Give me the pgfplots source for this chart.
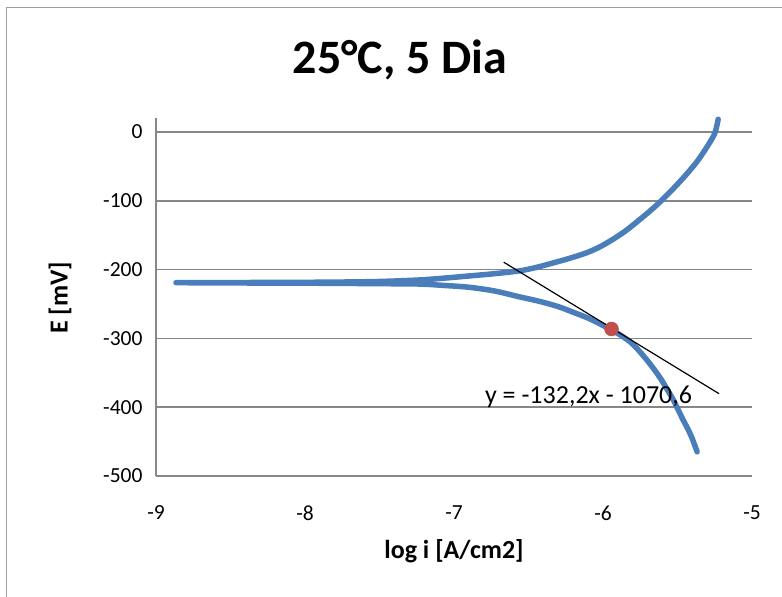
\documentclass[border=0pt]{standalone}
\usepackage{pgfplots}
\pgfplotsset{compat=1.18}
\usepackage{fontspec}
\setmainfont{Carlito}
\definecolor{excelblue}{HTML}{4A7EBB}
\definecolor{excelred}{HTML}{C0504D}
\definecolor{gridgray}{HTML}{878787}
\begin{document}
\begin{tikzpicture}
\useasboundingbox (0,0) rectangle (782pt,597pt);
\draw[gridgray!80, line width=1pt] (6pt,-2pt) -- (6pt,589pt) -- (784pt,589pt);
\begin{axis}[
  at={(156pt,121pt)}, anchor=south west,
  scale only axis, width=596pt, height=357.8pt,
  xmin=-9, xmax=-5, ymin=-500, ymax=20,
  xtick={-9,-8,-7,-6,-5}, ytick={-500,-400,-300,-200,-100,0},
  axis x line*=bottom, axis y line*=left,
  axis line style={-, draw=gridgray, line width=1.5pt},
  ymajorgrids, grid style={draw=gridgray, line width=1.5pt},
  major tick length=0pt,
  tick label style={font=\fontsize{21.5}{24}\selectfont},
  /pgf/number format/assume math mode=true,
  xticklabel style={yshift=-26pt},
  yticklabel style={xshift=-10pt},
  clip=false,
]
\addplot[excelblue, line width=5.5pt, line cap=round, line join=round, smooth, tension=0.5] coordinates {
(-5.368,-465) (-5.373,-462) (-5.390,-452) (-5.406,-443) (-5.432,-431) (-5.462,-418.6) (-5.495,-404)
(-5.528,-389.5) (-5.567,-375) (-5.607,-360.5) (-5.650,-347) (-5.696,-334) (-5.750,-320)
(-5.807,-307) (-5.870,-297) (-5.941,-287.8) (-6.020,-279) (-6.097,-270.8) (-6.20,-262)
(-6.298,-254) (-6.43,-246) (-6.565,-239.4) (-6.73,-231) (-6.900,-225.7) (-7.07,-223)
(-7.234,-221) (-7.5,-220.5) (-7.8,-220) (-8.1,-219.7) (-8.4,-219.5) (-8.65,-219.3) (-8.866,-219)
(-8.65,-218.9) (-8.4,-218.8) (-8.1,-218.6) (-7.8,-218.2) (-7.5,-217.3) (-7.234,-215.1) (-7.07,-212.5)
(-6.900,-209.3) (-6.73,-206) (-6.565,-202) (-6.45,-197) (-6.343,-190.8) (-6.23,-184) (-6.119,-176.3)
(-6.03,-168) (-5.941,-157) (-5.85,-144) (-5.763,-129) (-5.68,-114) (-5.609,-100) (-5.54,-85)
(-5.475,-70) (-5.42,-56.5) (-5.361,-40.7) (-5.30,-21) (-5.250,-2) (-5.227,18.5)
};
\addplot[black, line width=1.2pt] coordinates {(-6.666,-189.3) (-5.221,-380.4)};
\addplot[only marks, mark=*, mark size=7pt, color=excelred] coordinates {(-5.943,-286.3)};
\node[font=\fontsize{26}{29}\selectfont] at (axis cs:-6.097,-385) {y = -132,2x - 1070,6};
\end{axis}
\node[font=\bfseries\fontsize{48}{52}\selectfont] at (400pt,537pt) {25°C, 5 Dia};
\node[font=\bfseries\fontsize{26}{30}\selectfont] at (454pt,46pt) {log i [A/cm2]};
\node[font=\bfseries\fontsize{26}{30}\selectfont, rotate=90] at (60pt,299pt) {E [mV]};
\end{tikzpicture}
\end{document}
